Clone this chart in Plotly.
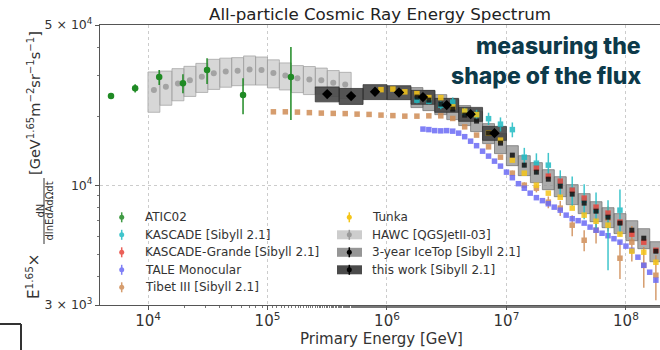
import plotly.graph_objects as go

# ---------------- measurements (E in GeV, flux scaled by E^1.65) ----------------
atic_E = [4.9e3, 7.8e3, 1.24e4, 1.96e4, 3.12e4, 6.24e4, 1.57e5]
atic_F = [24500, 26500, 29650, 27860, 31780, 24720, 29650]
atic_up = [700, 1100, 2150, 2650, 4050, 4600, 10400]
atic_dn = [700, 1100, 2300, 2680, 4170, 4300, 10400]

hawc_E = [1.12e4, 1.41e4, 1.78e4, 2.24e4, 2.82e4, 3.55e4, 4.47e4, 5.62e4, 7.08e4,
          8.91e4, 1.12e5, 1.41e5, 1.78e5, 2.24e5, 2.82e5, 3.55e5, 4.47e5]
hawc_F = [26000, 26900, 27800, 28700, 29700, 30800, 31300, 31600, 32000,
          31800, 30900, 30100, 29300, 28900, 28700, 28000, 27500]
hawc_sys = [0.20, 0.17, 0.16, 0.15, 0.145, 0.15, 0.145, 0.14, 0.145,
            0.14, 0.14, 0.135, 0.135, 0.14, 0.13, 0.13, 0.13]

tibet_E = [1.12e5, 1.41e5, 1.78e5, 2.24e5, 2.82e5, 3.55e5, 4.47e5, 5.62e5, 7.08e5, 8.91e5,
           1.12e6, 1.41e6, 1.78e6, 2.24e6, 2.82e6, 3.55e6, 4.47e6, 5.62e6, 7.08e6, 8.91e6,
           1.12e7, 1.41e7, 1.78e7, 2.24e7, 2.82e7, 3.55e7, 4.47e7, 5.62e7, 7.08e7, 8.91e7,
           1.12e8, 1.41e8, 1.78e8]
tibet_F = [20900, 20900, 20840, 20730, 20630, 20570, 20530, 20420, 20360, 20220,
           20120, 20010, 20010, 20070, 20070, 19550, 17970, 16540, 14700, 13250,
           11280, 10000, 9700, 8430, 7940, 6690, 5750, 6360, 7180, 4800,
           5640, 4470, 4045]
tibet_err = [0, 0, 0, 0, 0, 0, 0, 0, 0, 0,
             0, 0, 0, 0, 0, 0, 0, 0, 0, 0,
             300, 300, 400, 500, 600, 700, 600, 800, 900, 900,
             1000, 900, 900]

tale_E = [2.00e6, 2.24e6, 2.51e6, 2.82e6, 3.16e6, 3.55e6, 3.98e6, 4.47e6, 5.01e6, 5.62e6,
          6.31e6, 7.08e6, 7.94e6, 8.91e6, 1.00e7, 1.12e7, 1.26e7, 1.41e7, 1.58e7, 1.78e7,
          2.00e7, 2.24e7, 2.51e7, 2.82e7, 3.16e7, 3.55e7, 3.98e7, 4.47e7, 5.01e7, 5.62e7,
          6.31e7, 7.08e7, 7.94e7, 8.91e7, 1.00e8, 1.12e8, 1.26e8, 1.41e8, 1.58e8, 1.78e8]
tale_F = [17570, 17480, 17300, 17260, 17300, 17210, 16870, 16280, 15560, 14870,
          14070, 13390, 12730, 12110, 11400, 10780, 10150, 9700, 9230, 8820,
          8560, 8300, 8020, 7780, 7400, 7140, 7000, 6830, 6560, 6360,
          6170, 6020, 5840, 5640, 5420, 5200, 4850, 4470, 4170, 3850]

tunka_E = [8.91e5, 1.12e6, 1.41e6, 1.78e6, 2.24e6, 2.82e6, 3.55e6, 4.47e6, 5.62e6, 7.08e6,
           8.91e6, 1.12e7, 1.41e7, 1.78e7, 2.24e7, 2.82e7, 3.55e7, 4.47e7, 5.62e7, 7.08e7,
           8.91e7, 1.12e8, 1.41e8, 1.78e8]
tunka_F = [26120, 26260, 25550, 25090, 24110, 24110, 21970, 21040, 20320, 16870,
           15720, 12860, 11280, 10000, 9230, 8860, 7940, 7400, 6960, 6690,
           6110, 5150, 5100, 4610]

kascade_E = [1.78e6, 2.24e6, 2.82e6, 3.55e6, 4.47e6, 5.62e6, 7.08e6, 8.91e6, 1.12e7,
             1.41e7, 1.78e7, 2.24e7, 2.82e7, 3.55e7, 4.47e7, 5.62e7, 7.08e7, 8.91e7]
kascade_F = [23500, 23270, 22360, 23040, 20840, 20320, 19510, 18460, 17480,
             13250, 12470, 12230, 10310, 9510, 8600, 7780, 7400, 7780]
kascade_up = [700, 700, 900, 1100, 900, 1000, 1200, 1300, 1300,
              1300, 1300, 1600, 1300, 1400, 1500, 1500, 1200, 1800]
kascade_dn = [700, 700, 900, 1100, 900, 1000, 1200, 1300, 1300,
              1300, 1300, 1600, 1300, 1400, 1500, 1300, 3150, 1800]

kg_E = [1.78e7, 2.24e7, 2.82e7, 3.55e7, 4.47e7, 5.62e7, 7.08e7, 8.91e7, 1.12e8, 1.41e8, 1.78e8]
kg_F = [11860, 10950, 10410, 9510, 8780, 8020, 7550, 6900, 6110, 5640, 5200]

icetop_E = [1.78e6, 2.24e6, 2.82e6, 3.55e6, 4.47e6, 5.62e6, 7.08e6, 8.91e6, 1.12e7, 1.41e7,
            1.78e7, 2.24e7, 2.82e7, 3.55e7, 4.47e7, 5.62e7, 7.08e7, 8.91e7, 1.12e8, 1.41e8,
            1.78e8]
icetop_F = [24230, 23500, 22580, 21470, 20220, 19040, 16870, 15260, 13520, 12230,
            11400, 10620, 9900, 9140, 8350, 7700, 7250, 6830, 6360, 5870,
            5150]
icetop_sys = [0.10] * 21

thiswork_E = [3.16e5, 5.01e5, 7.94e5, 1.26e6, 2.00e6, 3.16e6, 5.01e6, 7.94e6]
thiswork_F = [24970, 24470, 25550, 25390, 24230, 22360, 20420, 16870]
thiswork_sys = [0.075, 0.08, 0.075, 0.07, 0.07, 0.07, 0.07, 0.07]

# ---------------- figure geometry ----------------
W, H = 660, 350
ML, MR, MT, MB = 100, 0, 25, 45
PW, PH = W - ML - MR, H - MT - MB

def px(x):
    return (x - ML) / PW

def py(y):
    return (H - MB - y) / PH

C_ATIC = "#1f8a24"
C_KAS = "#1fbcc4"
C_KG = "#e8453c"
C_TALE = "#6b6bf5"
C_TIBET = "#cf8c55"
C_TUNKA = "#f5c518"
FONT = "DejaVu Sans"
TXT = "#333333"

fig = go.Figure()


def box_trace(E, F, rel, half_dex, fill, edge):
    xs, ys = [], []
    k = 10 ** half_dex
    for e, f, r in zip(E, F, rel):
        lo, hi = f * (1 - r), f * (1 + r)
        xs += [e / k, e * k, e * k, e / k, e / k, None]
        ys += [lo, lo, hi, hi, lo, None]
    return go.Scatter(x=xs, y=ys, mode="lines", fill="toself", fillcolor=fill,
                      line=dict(color=edge, width=0.8), hoverinfo="skip", showlegend=False)


# systematic-uncertainty boxes
fig.add_trace(box_trace(hawc_E, hawc_F, hawc_sys, 0.05, "rgba(205,205,205,0.8)", "rgba(160,160,160,0.9)"))
fig.add_trace(box_trace(icetop_E, icetop_F, icetop_sys, 0.05, "rgba(150,150,150,0.8)", "rgba(110,110,110,0.9)"))
fig.add_trace(box_trace(thiswork_E, thiswork_F, thiswork_sys, 0.1, "rgba(70,70,70,0.9)", "rgba(45,45,45,0.9)"))


def pts(E, F, color, symbol="square", size=6, err=None, err_dn=None, opacity=0.85):
    ey = None
    if err is not None:
        ey = dict(type="data", array=err, arrayminus=err_dn if err_dn is not None else err,
                  color=color, thickness=1.5, width=0, visible=True)
    return go.Scatter(x=E, y=F, mode="markers", opacity=opacity,
                      marker=dict(symbol=symbol, size=size, color=color, line=dict(width=0)),
                      error_y=ey, hoverinfo="skip", showlegend=False)


fig.add_trace(pts(hawc_E, hawc_F, "#9a9a9a", "circle", 6))
fig.add_trace(pts(tibet_E, tibet_F, C_TIBET, "square", 5.5, tibet_err))
fig.add_trace(pts(tale_E, tale_F, C_TALE, "square", 5.5))
fig.add_trace(pts(kascade_E, kascade_F, C_KAS, "square", 5.5, kascade_up, kascade_dn))
fig.add_trace(pts(kg_E, kg_F, C_KG, "square", 5.5))
fig.add_trace(pts(tunka_E, tunka_F, C_TUNKA, "square", 5.5))
fig.add_trace(pts(icetop_E, icetop_F, "#111111", "square", 5))
fig.add_trace(pts(thiswork_E, thiswork_F, "#000000", "diamond", 8, opacity=1))
fig.add_trace(pts(atic_E, atic_F, C_ATIC, "circle", 6.5, atic_up, atic_dn, opacity=1))


def label(text, x, y, size, angle=0, color=TXT, family=FONT, xanchor="center", weight="normal"):
    return dict(text=text, x=px(x), y=py(y), xref="paper", yref="paper", textangle=angle,
                xanchor=xanchor, yanchor="middle", showarrow=False,
                font=dict(family=family, size=size, color=color, weight=weight))


# ---------------- legend (drawn on a pixel-space overlay axis) ----------------
legend_left = ["ATIC02", "KASCADE [Sibyll 2.1]", "KASCADE-Grande [Sibyll 2.1]",
               "TALE Monocular", "Tibet III [Sibyll 2.1]"]
legend_left_col = [C_ATIC, C_KAS, C_KG, C_TALE, C_TIBET]
legend_right = ["Tunka", "HAWC [QGSJetII-03]", "3-year IceTop [Sibyll 2.1]", "this work [Sibyll 2.1]"]
legend_right_box = [None, "rgba(205,205,205,1)", "rgba(150,150,150,1)", "rgba(75,75,75,1)"]
legend_right_mk = [C_TUNKA, "#9a9a9a", "#000000", "#000000"]

row0, drow = 217.3, 17.5
annotations = []
for i, (name, col) in enumerate(zip(legend_left, legend_left_col)):
    yy = row0 + i * drow
    fig.add_trace(go.Scatter(x=[121.7], y=[yy], xaxis="x2", yaxis="y2", mode="markers",
                             marker=dict(symbol="circle", size=5, color=col),
                             error_y=dict(type="constant", value=5, color=col, thickness=1.5, width=0),
                             opacity=0.85, hoverinfo="skip", showlegend=False))
    annotations.append(label(name, 143, yy, 12, xanchor="left"))
for i, (name, bc, mc) in enumerate(zip(legend_right, legend_right_box, legend_right_mk)):
    yy = row0 + i * drow
    if bc is not None:
        fig.add_trace(go.Scatter(x=[337, 362, 362, 337, 337], y=[yy - 4.5, yy - 4.5, yy + 4.5, yy + 4.5, yy - 4.5],
                                 xaxis="x2", yaxis="y2", mode="lines", fill="toself", fillcolor=bc,
                                 line=dict(color=bc, width=0), hoverinfo="skip", showlegend=False))
    fig.add_trace(go.Scatter(x=[349.3], y=[yy], xaxis="x2", yaxis="y2", mode="markers",
                             marker=dict(symbol="circle", size=5, color=mc),
                             error_y=dict(type="constant", value=5, color=mc, thickness=1.5, width=0),
                             hoverinfo="skip", showlegend=False))
    annotations.append(label(name, 370, yy, 12, xanchor="left"))

# ---------------- titles and labels ----------------
annotations += [
    label("All-particle Cosmic Ray Energy Spectrum", 380, 14, 16.7, color="#222222"),
    label("Primary Energy [GeV]", 381, 339, 15),
    label("E<sup>1.65</sup>×", 33, 277, 15, angle=-90),
    label("dN", 39.5, 211, 10, angle=-90),
    label("dlnEdAdΩdt", 48.5, 211, 10, angle=-90),
    label("[GeV<sup>1.65</sup>m<sup>−2</sup>sr<sup>−1</sup>s<sup>−1</sup>]", 34, 103, 14.5, angle=-90),
    label("measuring the", 643, 46, 23, color="#0d3a4a", family="Inter", xanchor="right", weight=800),
    label("shape of the flux", 643, 76, 23, color="#0d3a4a", family="Inter", xanchor="right", weight=800),
]

shapes = [
    dict(type="line", xref="paper", yref="paper", x0=px(44), x1=px(44), y0=py(178), y1=py(244),
         line=dict(color=TXT, width=1)),
    dict(type="line", xref="paper", yref="paper", x0=px(0), x1=px(21), y0=py(324), y1=py(324),
         line=dict(color=TXT, width=2)),
    dict(type="line", xref="paper", yref="paper", x0=px(21), x1=px(21), y0=py(324), y1=py(352),
         line=dict(color=TXT, width=2)),
]

fig.update_layout(
    width=W, height=H, margin=dict(l=ML, r=MR, t=MT, b=MB),
    paper_bgcolor="white", plot_bgcolor="white", showlegend=False,
    annotations=annotations, shapes=shapes,
    xaxis=dict(type="log", range=[3.598, 8.285], showline=True, linecolor="#555555", linewidth=1.2,
               mirror=True, ticks="outside", ticklen=4, tickcolor="#555555", ticklabelstandoff=-2,
               tickvals=[1e4, 1e5, 1e6, 1e7, 1e8],
               ticktext=["10<sup>4</sup>", "10<sup>5</sup>", "10<sup>6</sup>", "10<sup>7</sup>", "10<sup>8</sup>"],
               tickfont=dict(family=FONT, size=15, color=TXT),
               showgrid=True, gridcolor="#cccccc", griddash="dot", gridwidth=1, zeroline=False,
               minor=dict(ticks="outside", ticklen=2, tickcolor="#777777", showgrid=False)),
    yaxis=dict(type="log", range=[3.4771, 4.6990], showline=True, linecolor="#555555", linewidth=1.2,
               ticks="outside", ticklen=4, tickcolor="#555555",
               tickvals=[3000, 10000, 50000],
               ticktext=["3 × 10<sup>3</sup>", "10<sup>4</sup>", "5 × 10<sup>4</sup>"],
               tickfont=dict(family=FONT, size=12.5, color=TXT),
               showgrid=True, gridcolor="#cccccc", griddash="dot", gridwidth=1, zeroline=False,
               minor=dict(ticks="outside", ticklen=2, tickcolor="#777777", showgrid=False,
                          tickvals=[4000, 5000, 6000, 7000, 8000, 9000, 20000, 30000, 40000])),
    xaxis2=dict(overlaying="x", range=[ML, W - MR], visible=False, anchor="y2"),
    yaxis2=dict(overlaying="y", range=[H - MB, MT], visible=False, anchor="x2"),
)

fig.write_html("out.html")
